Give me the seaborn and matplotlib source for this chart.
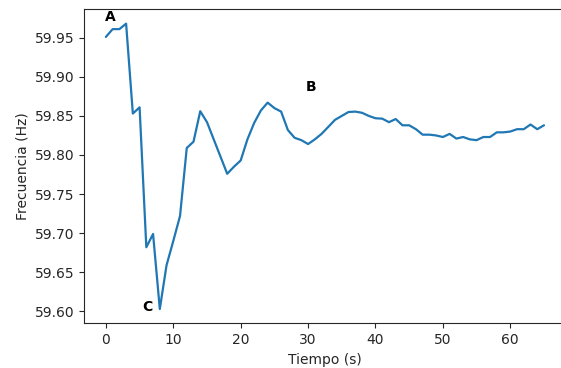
import matplotlib
matplotlib.use("Agg")
import matplotlib.pyplot as plt
import seaborn as sns
import numpy as np
import pandas as pd

tiempo = list(range(0, 66))
frecuencia = [
    59.951, 59.961, 59.961, 59.968, 59.853, 59.861, 59.682, 59.699, 59.603, 59.659,
    59.690, 59.722, 59.809, 59.817, 59.856, 59.842, 59.820, 59.798, 59.776, 59.785,
    59.793, 59.820, 59.841, 59.857, 59.867, 59.860, 59.8555, 59.832, 59.822, 59.819,
    59.814, 59.820, 59.827, 59.836, 59.845, 59.850, 59.855, 59.8555, 59.854, 59.850,
    59.847, 59.8465, 59.842, 59.846, 59.838, 59.838, 59.833, 59.826, 59.826, 59.825,
    59.823, 59.827, 59.821, 59.823, 59.820, 59.819, 59.823, 59.823, 59.829, 59.829,
    59.830, 59.833, 59.833, 59.839, 59.833, 59.838,
]
etiquetas = ["A", "B", "C"]
etiqueta_x = [0.7, 30.5, 6.2]
etiqueta_y = [59.976, 59.887, 59.606]

sns.set_style("ticks")
plt.rcParams['font.family'] = ['DejaVu Sans']

df = pd.DataFrame({"Tiempo (s)": tiempo, "Frecuencia (Hz)": frecuencia})

fig = plt.figure(figsize=(5.61, 3.68), dpi=100)
ax = fig.add_axes([0.1497, 0.1215, 0.859, 0.853])
sns.lineplot(data=df, x="Tiempo (s)", y="Frecuencia (Hz)", ax=ax, color="#1f77b4", linewidth=1.6)

for t, x, y in zip(etiquetas, etiqueta_x, etiqueta_y):
    ax.text(x, y, t, ha="center", va="center", fontsize=10, fontweight="bold", color="black")

ax.set_xticks([0, 10, 20, 30, 40, 50, 60])
ax.set_yticks([59.60, 59.65, 59.70, 59.75, 59.80, 59.85, 59.90, 59.95])
ax.set_yticklabels([f"{v:.2f}" for v in [59.60, 59.65, 59.70, 59.75, 59.80, 59.85, 59.90, 59.95]])
for s in ax.spines.values():
    s.set_visible(True)

fig.savefig("out.png", dpi=100)
